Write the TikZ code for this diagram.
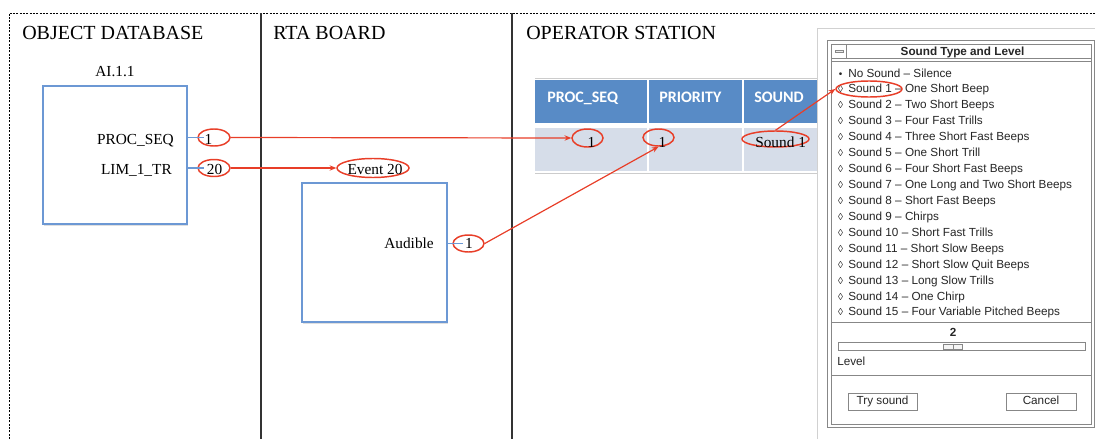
\documentclass[tikz,border=0pt]{standalone}
\usepackage{fontspec}
\setmainfont{Liberation Serif}
\newfontfamily\dlgsans{Liberation Sans}
\newfontfamily\tabsans{Carlito}
\usetikzlibrary{shapes.geometric,arrows.meta,calc,shadows}

\definecolor{hlred}{RGB}{232,62,40}
\definecolor{boxblue}{RGB}{108,152,212}
\definecolor{hdrblue}{RGB}{88,139,198}
\definecolor{rowblue}{RGB}{214,221,233}
\definecolor{dlggrey}{RGB}{135,135,135}

\begin{document}
\begin{tikzpicture}[x=0.75pt,y=-0.75pt,
  lane/.style={line width=1.5pt, draw=black!80},
  frame/.style={dash pattern=on 1.6pt off 0.9pt, line width=0.6pt},
  block/.style={rectangle, draw=boxblue, line width=1.1pt, fill=white,
    drop shadow={shadow xshift=0.5pt, shadow yshift=-1.2pt, opacity=0.25}},
  ring/.style={ellipse, draw=hlred, line width=1.1pt, inner sep=0pt},
  redlink/.style={draw=hlred, line width=0.9pt, -{Stealth[length=5pt,width=4pt]}},
  stub/.style={draw=boxblue, line width=1pt},
  lbl/.style={font=\fontsize{11.5}{13}\selectfont, inner sep=0pt},
  head/.style={font=\fontsize{15}{18}\selectfont, inner sep=0pt, anchor=west},
  dlg/.style={font=\dlgsans\fontsize{8.8}{10}\selectfont, text=black!85, inner sep=0pt},
  hdr/.style={font=\tabsans\bfseries\fontsize{12}{14}\selectfont, text=white, inner sep=0pt, anchor=base west},
  dline/.style={draw=dlggrey, line width=0.6pt}
]
\useasboundingbox (0,0) rectangle (1095,439);

% ---- swim-lane frame ----
\draw[frame] (9,439) -- (9,13) -- (1095,13);
\draw[lane] (261,13) -- (261,439);
\draw[lane] (512,13) -- (512,439);

\node[head] (hObj) at (22,33) {OBJECT DATABASE};
\node[head] (hRta) at (273,33) {RTA BOARD};
\node[head] (hOps) at (526,33) {OPERATOR STATION};

% ---- object database block ----
\node[lbl, anchor=base] (aiName) at (115,76) {AI.1.1};
\node[block, minimum width=108pt, minimum height=103.5pt] (b1) at (115,155) {};
\node[lbl, anchor=base east] (pProc) at (174,144) {PROC\_SEQ};
\node[lbl, anchor=base east] (pLim) at (172,174) {LIM\_1\_TR};

\node[ring, minimum width=24pt, minimum height=12.75pt] (e1) at (214,137.5) {};
\node[ring, minimum width=24pt, minimum height=12.75pt] (e20) at (214,168) {};
\draw[stub] (b1.east |- e1.center) -- ($(e1.center)+(-10,0)$);
\draw[stub] (b1.east |- e20.center) -- ($(e20.center)+(-10,0)$);
\node[lbl, anchor=base] (v1) at (208.5,144) {1};
\node[lbl, anchor=base] (v20) at (214.5,174) {20};

% ---- RTA board block ----
\node[ring, minimum width=54pt, minimum height=14.25pt] (ev20) at (373,168) {};
\node[lbl, anchor=base] (evTxt) at (375,174) {Event 20};
\node[block, minimum width=108.75pt, minimum height=104.25pt] (b2) at (374.5,252.5) {};
\node[lbl, anchor=base east] (pAud) at (434,248) {Audible};
\node[ring, minimum width=23.25pt, minimum height=12.75pt] (ea) at (468.5,243.5) {};
\draw[stub] (b2.east |- ea.center) -- ($(ea.center)+(-6,0)$);
\node[lbl, anchor=base] (vA) at (469,248) {1};

% ---- operator station table ----
\draw[black!20, line width=0.5pt] (535,78) -- (817,78);
\draw[black!20, line width=0.5pt] (535,173) -- (817,173);
\fill[hdrblue] (535,80) rectangle (647,123);
\fill[hdrblue] (648.5,80) rectangle (742,123);
\fill[hdrblue] (743.5,80) rectangle (817,123);
\fill[rowblue] (535,128) rectangle (647,171);
\fill[rowblue] (648.5,128) rectangle (742,171);
\fill[rowblue] (743.5,128) rectangle (817,171);
\node[hdr] (cProc) at (547,102) {PROC\_SEQ};
\node[hdr] (cPrio) at (659,102) {PRIORITY};
\node[hdr] (cSnd) at (754,102) {SOUND};

\node[ring, minimum width=23.25pt, minimum height=13.5pt] (t1) at (587.5,138) {};
\node[ring, minimum width=23.25pt, minimum height=12.75pt] (tp) at (658.5,137.5) {};
\node[ring, minimum width=50.25pt, minimum height=12pt] (ts) at (775.5,139) {};
\node[lbl, anchor=base] (r1) at (591.5,147) {1};
\node[lbl, anchor=base] (r2) at (662.5,147) {1};
\node[lbl, anchor=base west] (r3) at (755,147) {Sound 1};

% ---- sound dialog ----
\draw[black!18, line width=0.6pt] (817,439) -- (817,28) -- (1095,28);
\fill[white] (827,40) rectangle (1094,427);
\draw[dline] (827,40) rectangle (1094,427);
\draw[dline] (831,44) rectangle (1091,424);
\draw[dline] (831,44) rectangle (1091,58);
\draw[dline] (846,44) -- (846,58);
\draw[dlggrey, fill=black!8, line width=0.4pt] (835,50) rectangle (843,52.5);
\node[dlg, font=\dlgsans\bfseries\fontsize{8.8}{10}\selectfont, anchor=base] (dTitle) at (962.5,55) {Sound Type and Level};
\draw[dline] (831,61) rectangle (1091,322);
\draw[dline] (831,322) rectangle (1091,375);

\foreach \txt [count=\i from 0] in {No Sound – Silence, Sound 1 – One Short Beep,
  Sound 2 – Two Short Beeps, Sound 3 – Four Fast Trills,
  Sound 4 – Three Short Fast Beeps, Sound 5 – One Short Trill,
  Sound 6 – Four Short Fast Beeps, Sound 7 – One Long and Two Short Beeps,
  Sound 8 – Short Fast Beeps, Sound 9 – Chirps, Sound 10 – Short Fast Trills,
  Sound 11 – Short Slow Beeps, Sound 12 – Short Slow Quit Beeps,
  Sound 13 – Long Slow Trills, Sound 14 – One Chirp,
  Sound 15 – Four Variable Pitched Beeps}{
  \node[dlg, anchor=base west] (item\i) at (848,77+\i*15.93) {\txt};
  \node[dlg, anchor=base, font=\dlgsans\fontsize{7.5}{8}\selectfont] (sym\i) at (840.5,77+\i*15.93)
    {\ifnum\i=0 •\else ◊\fi};
}

\node[ring, minimum width=49.5pt, minimum height=12pt] (ds) at (869,89) {};

% level slider
\node[dlg, font=\dlgsans\bfseries\fontsize{8.8}{10}\selectfont, anchor=base] (lvlVal) at (953,336.5) {2};
\draw[dlggrey, line width=0.5pt] (838,342.5) rectangle (1085,350.5);
\draw[dlggrey, fill=black!4, line width=0.5pt] (943,344) rectangle (962,349);
\draw[dlggrey, line width=0.5pt] (953,344) -- (953,349);
\node[dlg, anchor=base west] (lvl) at (837,365.5) {Level};

% buttons
\node[dlg, draw=dlggrey, line width=0.5pt, minimum width=51.75pt, minimum height=12.75pt] (bTry) at (882.5,401.5) {};
\node[dlg, anchor=base] (bTryTxt) at (882.5,404.5) {Try sound};
\node[dlg, draw=dlggrey, line width=0.5pt, minimum width=52.5pt, minimum height=12.75pt] (bCancel) at (1041,401.5) {};
\node[dlg, anchor=base] (bCancelTxt) at (1041,404.5) {Cancel};

% ---- value flow ----
\draw[redlink] (e1.east) -- (t1.west);
\draw[redlink] (e20.east) -- (ev20.west);
\draw[redlink] (ea.east) -- (tp.south);
\draw[redlink] (ts.north) -- (ds.west);
\end{tikzpicture}
\end{document}
